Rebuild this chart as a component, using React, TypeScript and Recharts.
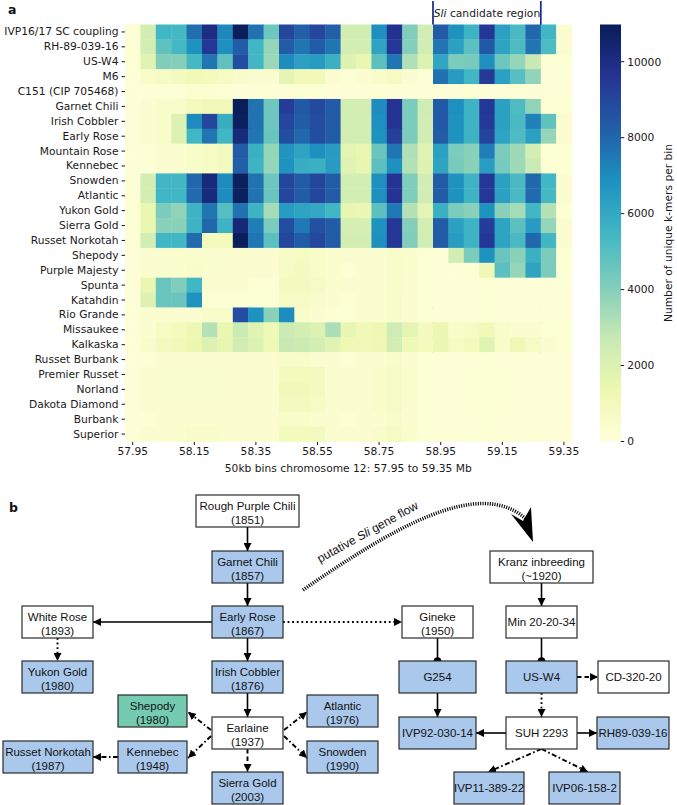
import React from 'react';
import { ScatterChart, Scatter, XAxis, YAxis, ReferenceLine, BarChart, Bar, Label } from 'recharts';

// ---------- DATA ----------
const varieties = [
  'IVP16/17 SC coupling', 'RH-89-039-16', 'US-W4', 'M6', 'C151 (CIP 705468)', 'Garnet Chili',
  'Irish Cobbler', 'Early Rose', 'Mountain Rose', 'Kennebec', 'Snowden', 'Atlantic', 'Yukon Gold',
  'Sierra Gold', 'Russet Norkotah', 'Shepody', 'Purple Majesty', 'Spunta', 'Katahdin', 'Rio Grande',
  'Missaukee', 'Kalkaska', 'Russet Burbank', 'Premier Russet', 'Norland', 'Dakota Diamond', 'Burbank', 'Superior',
];

const bins = [
  '57.95', '58.00', '58.05', '58.10', '58.15', '58.20', '58.25', '58.30', '58.35', '58.40',
  '58.45', '58.50', '58.55', '58.60', '58.65', '58.70', '58.75', '58.80', '58.85', '58.90',
  '58.95', '59.00', '59.05', '59.10', '59.15', '59.20', '59.25', '59.30', '59.35',
];
const binTickLabels = ['57.95', '58.15', '58.35', '58.55', '58.75', '58.95', '59.15', '59.35'];
const sliFirstBin = '58.95';
const sliLastBin = '59.25';
const colorbarTicks = [0, 2000, 4000, 6000, 8000, 10000];
const colorMax = 10980;

// unique k-mers per 50kb bin, one array per variety (same order as `varieties`)
const kmerCounts: number[][] = [
  [200, 2300, 5500, 5400, 7800, 10000, 7100, 10900, 7700, 4500, 9000, 8200, 9000, 8200, 2300, 2300, 6900, 9700, 4100, 2400, 8300, 6800, 5600, 9500, 6300, 5300, 8000, 5500, 300],
  [200, 2300, 4800, 5400, 6800, 9500, 6900, 8300, 5500, 3700, 8300, 7600, 8300, 7600, 2300, 2300, 6200, 9500, 4000, 2400, 7600, 6300, 4900, 8400, 6200, 5200, 7600, 5200, 300],
  [200, 1800, 4100, 4000, 5400, 7600, 4800, 8800, 5500, 3600, 7000, 6300, 6500, 5700, 1900, 1500, 4900, 7600, 3200, 1900, 6100, 4200, 4300, 6900, 4500, 3700, 2700, 200, 200],
  [100, 600, 700, 900, 1100, 1000, 800, 500, 400, 300, 1700, 1100, 1100, 300, 200, 300, 500, 800, 300, 200, 7700, 6500, 5500, 9400, 6300, 5000, 3800, 150, 150],
  [100, 150, 200, 200, 250, 250, 200, 150, 150, 150, 200, 200, 200, 150, 150, 150, 150, 150, 150, 150, 150, 150, 150, 150, 150, 150, 150, 150, 150],
  [100, 300, 500, 600, 1000, 1100, 1100, 10900, 7700, 4500, 9300, 8400, 8900, 8300, 2300, 2300, 7000, 9600, 4200, 2500, 8400, 6900, 5600, 9500, 6300, 5200, 3800, 200, 200],
  [100, 300, 500, 2000, 7000, 9000, 5800, 10800, 7700, 4500, 9000, 8300, 8800, 8300, 2300, 2300, 6900, 9600, 4200, 2400, 8400, 6800, 5600, 9400, 6300, 5300, 7300, 4800, 300],
  [100, 300, 500, 2000, 5500, 7600, 5500, 10200, 7600, 4600, 8800, 8000, 8800, 8300, 2300, 2300, 6800, 9200, 4200, 2400, 8300, 6800, 5600, 9100, 6200, 5200, 6300, 3700, 300],
  [100, 200, 300, 400, 600, 800, 900, 8300, 5700, 3700, 6700, 6200, 6900, 6500, 1700, 1500, 4600, 7600, 3200, 1800, 6300, 4200, 3900, 7400, 4200, 3500, 2300, 200, 200],
  [100, 200, 300, 400, 500, 800, 900, 8200, 5600, 3700, 6800, 5800, 5700, 6500, 1800, 1600, 4900, 6900, 3100, 1900, 6200, 4300, 3900, 6400, 4300, 3500, 2600, 200, 200],
  [200, 2300, 5500, 5500, 8000, 10200, 7000, 10800, 7700, 4500, 9000, 8300, 9000, 8300, 2300, 2300, 6900, 9600, 4100, 2400, 8300, 6800, 5600, 9500, 6300, 5300, 8000, 5500, 300],
  [200, 2300, 5500, 5500, 7900, 10200, 7000, 10800, 7700, 4600, 9000, 8300, 9000, 8300, 2300, 2300, 6900, 9600, 4100, 2400, 8300, 6800, 5600, 9500, 6300, 5300, 7900, 5400, 300],
  [200, 1500, 4200, 3800, 5600, 7600, 5000, 7700, 5600, 3400, 6500, 6200, 6000, 5500, 1600, 1400, 4900, 7500, 3100, 1700, 5700, 4200, 3900, 6800, 3900, 3400, 5500, 3100, 200],
  [200, 1500, 3900, 3900, 5600, 8000, 5600, 10300, 7400, 4200, 8800, 7500, 8700, 8300, 2200, 2200, 6800, 9500, 4000, 2300, 8300, 6300, 5600, 9300, 6200, 4900, 6500, 3700, 300],
  [200, 2300, 5500, 5500, 7900, 1000, 1000, 10900, 7600, 4900, 9000, 8300, 9000, 8300, 2300, 2300, 6900, 9500, 4100, 2400, 8300, 6400, 5600, 9500, 6200, 5300, 8000, 5500, 300],
  [100, 300, 400, 400, 400, 400, 400, 300, 300, 300, 700, 800, 600, 400, 300, 300, 400, 600, 400, 200, 100, 2300, 4200, 6800, 4600, 3900, 5700, 4200, 200],
  [100, 300, 400, 400, 500, 400, 400, 300, 300, 300, 800, 900, 600, 400, 200, 300, 400, 600, 400, 200, 100, 100, 200, 1200, 4900, 3700, 6200, 4200, 200],
  [100, 1500, 4600, 4100, 5500, 300, 300, 300, 200, 200, 900, 900, 700, 400, 300, 300, 400, 600, 300, 200, 150, 150, 150, 200, 150, 150, 150, 150, 150],
  [100, 2000, 4600, 4600, 6800, 200, 200, 200, 200, 200, 700, 700, 500, 300, 200, 300, 400, 500, 300, 200, 150, 150, 150, 200, 150, 150, 150, 150, 150],
  [100, 300, 300, 300, 300, 600, 600, 8800, 6800, 3900, 7000, 500, 300, 200, 200, 300, 400, 500, 300, 200, 150, 150, 150, 200, 150, 150, 150, 150, 150],
  [100, 400, 800, 1000, 1300, 3100, 1500, 2600, 1800, 1200, 2600, 2300, 2000, 3300, 1600, 1100, 1300, 2500, 1700, 900, 1400, 600, 800, 1100, 500, 400, 300, 200, 200],
  [100, 500, 900, 1100, 1400, 2000, 1600, 2400, 2000, 1200, 2700, 2600, 2300, 1800, 1200, 1100, 1300, 2300, 1200, 1000, 1400, 800, 1000, 1800, 600, 1200, 700, 300, 200],
  [100, 200, 300, 300, 300, 300, 300, 300, 300, 300, 500, 600, 400, 300, 200, 300, 400, 500, 300, 200, 150, 150, 150, 200, 150, 150, 150, 150, 150],
  [100, 300, 400, 400, 400, 400, 400, 300, 300, 300, 1000, 1000, 900, 400, 300, 300, 500, 700, 400, 200, 150, 150, 200, 200, 200, 150, 150, 150, 150],
  [100, 300, 400, 400, 400, 400, 400, 300, 300, 300, 1100, 1100, 900, 400, 300, 300, 500, 700, 400, 200, 150, 150, 200, 200, 200, 150, 150, 150, 150],
  [100, 300, 400, 400, 400, 400, 400, 300, 300, 300, 900, 900, 800, 400, 300, 300, 500, 700, 400, 200, 150, 150, 200, 200, 200, 150, 150, 150, 150],
  [100, 200, 300, 300, 300, 300, 300, 300, 300, 300, 600, 600, 400, 300, 200, 300, 400, 500, 300, 200, 150, 150, 150, 200, 150, 150, 150, 150, 150],
  [100, 300, 400, 400, 500, 500, 400, 300, 300, 300, 1000, 1000, 900, 400, 300, 300, 500, 800, 400, 200, 150, 150, 200, 200, 200, 150, 150, 150, 150],
];

// ---------- STYLE / LAYOUT ----------
const YLGNBU = ['#ffffd9', '#edf8b1', '#c7e9b4', '#7fcdbb', '#41b6c4', '#1d91c0', '#225ea8', '#253494', '#081d58'];
const CHART_W = 677;
const CHART_H = 480;
const M_TOP = 24.5;
const M_RIGHT = 105.4;
const Y_AXIS_W = 125;
const X_AXIS_H = 38.5;
const PLOT_W = CHART_W - M_RIGHT - Y_AXIS_W;
const PLOT_H = CHART_H - M_TOP - X_AXIS_H;
const CELL_W = PLOT_W / bins.length;
const CELL_H = PLOT_H / varieties.length;
const TICK_FONT = { fontSize: 10.7, fill: '#1a1a1a', fontFamily: 'DejaVu Sans' };
const LINE_BLUE = '#102a8e';

function hexToRgb(h: string) {
  return [parseInt(h.slice(1, 3), 16), parseInt(h.slice(3, 5), 16), parseInt(h.slice(5, 7), 16)];
}
function colorOf(v: number) {
  const t = Math.max(0, Math.min(1, v / colorMax)) * (YLGNBU.length - 1);
  const i = Math.min(YLGNBU.length - 2, Math.floor(t));
  const f = t - i;
  const a = hexToRgb(YLGNBU[i]);
  const b = hexToRgb(YLGNBU[i + 1]);
  const c = a.map((x, k) => Math.round(x + (b[k] - x) * f));
  return `rgb(${c[0]},${c[1]},${c[2]})`;
}

const HeatCell = (props: any) => {
  const { cx, cy, payload } = props;
  if (cx == null || cy == null) return null;
  return (
    <rect x={cx - CELL_W / 2} y={cy - CELL_H / 2} width={CELL_W + 0.4} height={CELL_H + 0.4} fill={colorOf(payload.v)} />
  );
};

const RowTick = (props: any) => {
  const { x, y, payload } = props;
  return (
    <text x={x} y={y} textAnchor="end" dominantBaseline="central" fontSize={10.7} fontFamily="DejaVu Sans" fill="#1a1a1a">
      {varieties[payload.value]}
    </text>
  );
};

// ---------- DIAGRAM (panel b) ----------
const BLUE = '#a9c8ec';
const GREEN = '#74cbb0';
const WHITE = '#ffffff';
type Node = { id: string; lines: string[]; x: number; y: number; w: number; fill: string };
const BOX_H = 32;
const nodes: Node[] = [
  { id: 'rpc', lines: ['Rough Purple Chili', '(1851)'], x: 196, y: 495, w: 103, fill: WHITE },
  { id: 'garnet', lines: ['Garnet Chili', '(1857)'], x: 212, y: 551, w: 71, fill: BLUE },
  { id: 'early', lines: ['Early Rose', '(1867)'], x: 212, y: 606, w: 71, fill: BLUE },
  { id: 'white', lines: ['White Rose', '(1893)'], x: 22, y: 606, w: 71, fill: WHITE },
  { id: 'yukon', lines: ['Yukon Gold', '(1980)'], x: 22, y: 661, w: 71, fill: BLUE },
  { id: 'irish', lines: ['Irish Cobbler', '(1876)'], x: 212, y: 661, w: 71, fill: BLUE },
  { id: 'shepody', lines: ['Shepody', '(1980)'], x: 118, y: 695, w: 69, fill: GREEN },
  { id: 'atlantic', lines: ['Atlantic', '(1976)'], x: 307, y: 695, w: 71, fill: BLUE },
  { id: 'earlaine', lines: ['Earlaine', '(1937)'], x: 212, y: 717, w: 71, fill: WHITE },
  { id: 'rn', lines: ['Russet Norkotah', '(1987)'], x: 3, y: 741, w: 90, fill: BLUE },
  { id: 'kennebec', lines: ['Kennebec', '(1948)'], x: 118, y: 741, w: 69, fill: BLUE },
  { id: 'snowden', lines: ['Snowden', '(1990)'], x: 307, y: 741, w: 71, fill: BLUE },
  { id: 'sierra', lines: ['Sierra Gold', '(2003)'], x: 212, y: 772, w: 71, fill: BLUE },
  { id: 'gineke', lines: ['Gineke', '(1950)'], x: 402, y: 606, w: 71, fill: WHITE },
  { id: 'g254', lines: ['G254'], x: 399, y: 661, w: 77, fill: BLUE },
  { id: 'ivp92', lines: ['IVP92-030-14'], x: 399, y: 717, w: 77, fill: BLUE },
  { id: 'kranz', lines: ['Kranz inbreeding', '(~1920)'], x: 490, y: 551, w: 103, fill: WHITE },
  { id: 'min', lines: ['Min 20-20-34'], x: 506, y: 606, w: 71, fill: WHITE },
  { id: 'usw4', lines: ['US-W4'], x: 506, y: 661, w: 71, fill: BLUE },
  { id: 'cd', lines: ['CD-320-20'], x: 598, y: 661, w: 71, fill: WHITE },
  { id: 'suh', lines: ['SUH 2293'], x: 506, y: 717, w: 71, fill: WHITE },
  { id: 'rh89', lines: ['RH89-039-16'], x: 597, y: 717, w: 72, fill: BLUE },
  { id: 'ivp11', lines: ['IVP11-389-22'], x: 454, y: 772, w: 70, fill: BLUE },
  { id: 'ivp06', lines: ['IVP06-158-2'], x: 549, y: 772, w: 71, fill: BLUE },
];

type Edge = { a: [number, number]; b: [number, number]; s: 'solid' | 'dot' | 'dash' | 'dashdot'; end: 'arrow' | 'ball' };
const edges: Edge[] = [
  { a: [247.5, 527], b: [247.5, 551], s: 'solid', end: 'arrow' },
  { a: [247.5, 583], b: [247.5, 606], s: 'solid', end: 'arrow' },
  { a: [212, 622], b: [93, 622], s: 'solid', end: 'arrow' },
  { a: [247.5, 638], b: [247.5, 661], s: 'solid', end: 'arrow' },
  { a: [247.5, 693], b: [247.5, 717], s: 'solid', end: 'arrow' },
  { a: [57.5, 638], b: [57.5, 661], s: 'dot', end: 'arrow' },
  { a: [283, 622], b: [402, 622], s: 'dot', end: 'arrow' },
  { a: [211, 730], b: [188, 712], s: 'dashdot', end: 'arrow' },
  { a: [211, 736], b: [188, 758], s: 'dashdot', end: 'arrow' },
  { a: [284, 730], b: [307, 712], s: 'dashdot', end: 'arrow' },
  { a: [284, 736], b: [307, 758], s: 'dashdot', end: 'arrow' },
  { a: [247.5, 749], b: [247.5, 772], s: 'dash', end: 'arrow' },
  { a: [118, 757], b: [93, 757], s: 'dashdot', end: 'arrow' },
  { a: [437.5, 638], b: [437.5, 661], s: 'solid', end: 'ball' },
  { a: [437.5, 693], b: [437.5, 717], s: 'solid', end: 'arrow' },
  { a: [541.5, 583], b: [541.5, 606], s: 'solid', end: 'arrow' },
  { a: [541.5, 638], b: [541.5, 661], s: 'solid', end: 'ball' },
  { a: [577, 677], b: [598, 677], s: 'dash', end: 'arrow' },
  { a: [541.5, 693], b: [541.5, 717], s: 'dot', end: 'arrow' },
  { a: [506, 733], b: [476, 733], s: 'solid', end: 'arrow' },
  { a: [577, 733], b: [597, 733], s: 'solid', end: 'arrow' },
  { a: [541.5, 749], b: [488, 772], s: 'dashdot', end: 'arrow' },
  { a: [541.5, 749], b: [588, 772], s: 'dashdot', end: 'arrow' },
];
const DASH: Record<string, string | undefined> = {
  solid: undefined,
  dot: '1.8 2.8',
  dash: '4.5 3',
  dashdot: '5 2.5 1.6 2.5',
};

function Diagram() {
  const font = 'Liberation Sans, Arial, sans-serif';
  return (
    <g>
      <defs>
        <marker id="arrowHead" viewBox="0 0 10 10" refX="10" refY="5" markerWidth="8" markerHeight="8"
          markerUnits="userSpaceOnUse" orient="auto">
          <path d="M0,0 L10,5 L0,10 z" fill="#000" />
        </marker>
      </defs>
      {edges.map((e, i) => (
        <g key={i}>
          <line x1={e.a[0]} y1={e.a[1]} x2={e.b[0]} y2={e.b[1]} stroke="#000"
            strokeWidth={e.s === 'solid' ? 1.6 : 1.9} strokeDasharray={DASH[e.s]}
            markerEnd={e.end === 'arrow' ? 'url(#arrowHead)' : undefined} />
          {e.end === 'ball' && <circle cx={e.b[0]} cy={e.b[1]} r={3.8} fill="#000" />}
        </g>
      ))}
      {nodes.map((n) => (
        <g key={n.id}>
          <rect x={n.x} y={n.y} width={n.w} height={BOX_H} fill={n.fill} stroke="#2b2b2b" strokeWidth={1.2} />
          {n.lines.length === 2 ? (
            <>
              <text x={n.x + n.w / 2} y={n.y + 10.5} textAnchor="middle" dominantBaseline="central" fontSize={11.5} fontFamily={font} fill="#111">{n.lines[0]}</text>
              <text x={n.x + n.w / 2} y={n.y + 25} textAnchor="middle" dominantBaseline="central" fontSize={11.5} fontFamily={font} fill="#111">{n.lines[1]}</text>
            </>
          ) : (
            <text x={n.x + n.w / 2} y={n.y + BOX_H / 2} textAnchor="middle" dominantBaseline="central" fontSize={11.5} fontFamily={font} fill="#111">{n.lines[0]}</text>
          )}
        </g>
      ))}
      {/* putative Sli gene flow */}
      <path d="M303,590 C390,530 480,475 527,520" fill="none" stroke="#000" strokeWidth={3.6} strokeDasharray="1.1 1.3" />
      <path d="M533,542 L511,514 L523,521 L531,507 Z" fill="#000" />
      <text x={320} y={563} fontSize={12} fontFamily={font} fill="#111" transform="rotate(-29 320 563)">
        putative <tspan fontStyle="italic">Sli</tspan> gene flow
      </text>
    </g>
  );
}

export default function App() {
  const cells = kmerCounts.flatMap((vals, r) => vals.map((v, c) => ({ bin: c, row: r, v })));
  const binTicks = binTickLabels.map((b) => bins.indexOf(b));
  const rowTicks = varieties.map((_, i) => i);
  const sliLeft = bins.indexOf(sliFirstBin) - 0.5;
  const sliRight = bins.indexOf(sliLastBin) + 0.5;
  const lineTop = -0.5 - (M_TOP - 1) / CELL_H;
  const colorbarData = [{ name: 'scale', v: colorMax }];

  return (
    <div style={{ position: 'absolute', left: 0, top: 0, width: 677, height: 805, background: '#fff', overflow: 'hidden' }}>
      <div style={{ position: 'absolute', left: 0, top: 0 }}>
        <ScatterChart width={CHART_W} height={CHART_H} margin={{ top: M_TOP, right: M_RIGHT, bottom: 0, left: 0 }}>
          <XAxis type="number" dataKey="bin" domain={[-0.5, bins.length - 0.5]} ticks={binTicks}
            tickFormatter={(i: number) => bins[i]} axisLine={false} tickSize={3.5} tickMargin={2}
            height={X_AXIS_H} tick={TICK_FONT} tickLine={{ stroke: '#1a1a1a' }} interval={0}>
            <Label value="50kb bins chromosome 12: 57.95 to 59.35 Mb" position="insideBottom" offset={8}
              style={{ fontSize: 10.7, fill: '#1a1a1a', fontFamily: 'DejaVu Sans' }} />
          </XAxis>
          <YAxis type="number" dataKey="row" reversed domain={[-0.5, varieties.length - 0.5]} ticks={rowTicks}
            width={Y_AXIS_W} axisLine={false} tickSize={3.5}
            tickMargin={3} interval={0} tick={<RowTick />} tickLine={{ stroke: '#1a1a1a' }} />
          <Scatter data={cells} shape={HeatCell} isAnimationActive={false} />
          <ReferenceLine segment={[{ x: sliLeft, y: lineTop }, { x: sliLeft, y: varieties.length - 0.5 }]}
            stroke={LINE_BLUE} strokeWidth={1.7} ifOverflow="visible" />
          <ReferenceLine segment={[{ x: sliRight, y: lineTop }, { x: sliRight, y: varieties.length - 0.5 }]}
            stroke={LINE_BLUE} strokeWidth={1.7} ifOverflow="visible" />
        </ScatterChart>
      </div>
      <div style={{ position: 'absolute', left: 600, top: 0 }}>
        <BarChart width={80} height={CHART_H} data={colorbarData} margin={{ top: M_TOP, right: 0, bottom: X_AXIS_H, left: 0 }}
          barCategoryGap={0}>
          <defs>
            <linearGradient id="ylgnbuGrad" x1="0" y1="1" x2="0" y2="0">
              {YLGNBU.map((c, i) => (
                <stop key={i} offset={i / (YLGNBU.length - 1)} stopColor={c} />
              ))}
            </linearGradient>
          </defs>
          <XAxis dataKey="name" hide />
          <YAxis orientation="right" type="number" domain={[0, colorMax]} ticks={colorbarTicks} width={59.3}
            axisLine={false} tickSize={3.5} tickMargin={3} interval={0} tick={TICK_FONT} tickLine={{ stroke: '#1a1a1a' }} />
          <Bar dataKey="v" fill="url(#ylgnbuGrad)" isAnimationActive={false} />
        </BarChart>
      </div>
      <svg width={677} height={805} style={{ position: 'absolute', left: 0, top: 0, pointerEvents: 'none' }}>
        <text x={8} y={14} fontSize={12.5} fontWeight="bold" fontFamily="DejaVu Sans" fill="#111">a</text>
        <text x={487} y={16.5} textAnchor="middle" fontSize={10.7} fontFamily="DejaVu Sans" fill="#1a1a1a">
          <tspan fontStyle="italic">Sli</tspan> candidate region
        </text>
        <text x={668} y={233} textAnchor="middle" dominantBaseline="central" fontSize={10.7} fontFamily="DejaVu Sans"
          fill="#1a1a1a" transform="rotate(-90 668 233)">Number of unique k-mers per bin</text>
        <text x={9} y={512} fontSize={12.5} fontWeight="bold" fontFamily="DejaVu Sans" fill="#111">b</text>
        <Diagram />
      </svg>
    </div>
  );
}
